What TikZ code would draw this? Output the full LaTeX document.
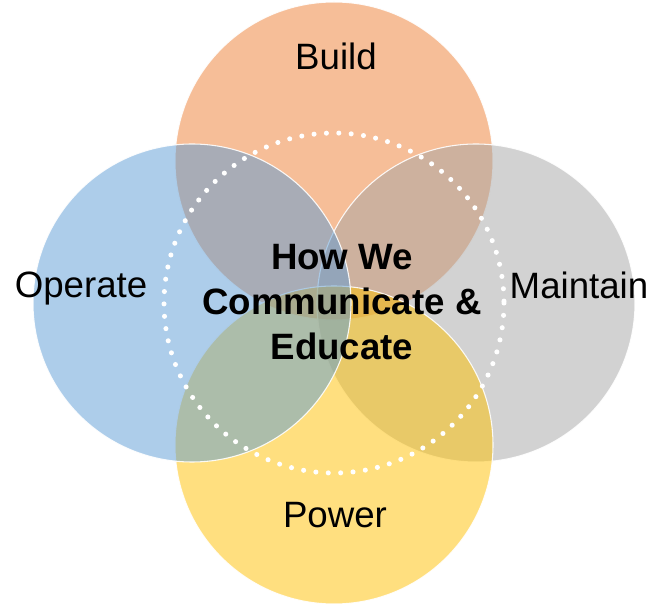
\documentclass[tikz,border=0pt]{standalone}
\usepackage{fontspec}
\setmainfont{Liberation Sans}
\usetikzlibrary{positioning}
\definecolor{buildcol}{HTML}{ED7D31}
\definecolor{maintcol}{HTML}{A5A5A5}
\definecolor{powercol}{HTML}{FFC000}
\definecolor{opercol}{HTML}{5B9BD5}
\def\rr{159}
\tikzset{petal/.style={draw=white,line width=0.8pt,fill opacity=0.5,draw opacity=0.9},
  word/.style={font=\fontsize{27.5}{33}\selectfont,inner sep=0pt,anchor=base},
  ring/.style={draw=white,line width=3.8pt,line cap=round,dash pattern=on 0pt off 9.3pt}}
\newcommand{\newPetal}[3]{\coordinate (#1) at (#2); \filldraw[petal,fill=#3] (#1) circle (\rr);}
\newcommand{\newWord}[3]{\node[word] (#1) at (#2) {#3};}

\begin{document}
\begin{tikzpicture}[x=0.75pt,y=-0.75pt]
  \useasboundingbox (0,0) rectangle (654,605);
  \coordinate (hub) at (334,303);
  % the four petals, clockwise from the top
  \newPetal{build}{334,161}{buildcol}
  \newPetal{maint}{476,303}{maintcol}
  \newPetal{power}{334,445}{powercol}
  \newPetal{oper}{192,303}{opercol}
  \draw[ring] (hub) circle (170);
  \newWord{build text}{336,70}{Build}
  \newWord{maint text}{579,299}{Maintain}
  \newWord{power text}{335,528}{Power}
  \newWord{oper text}{81,298}{Operate}
  \node[font=\bfseries\fontsize{27.5}{33.75}\selectfont,align=center,inner sep=0pt]
    (hub text) at (342,302) {How We\\Communicate \&\\Educate};
\end{tikzpicture}
\end{document}
